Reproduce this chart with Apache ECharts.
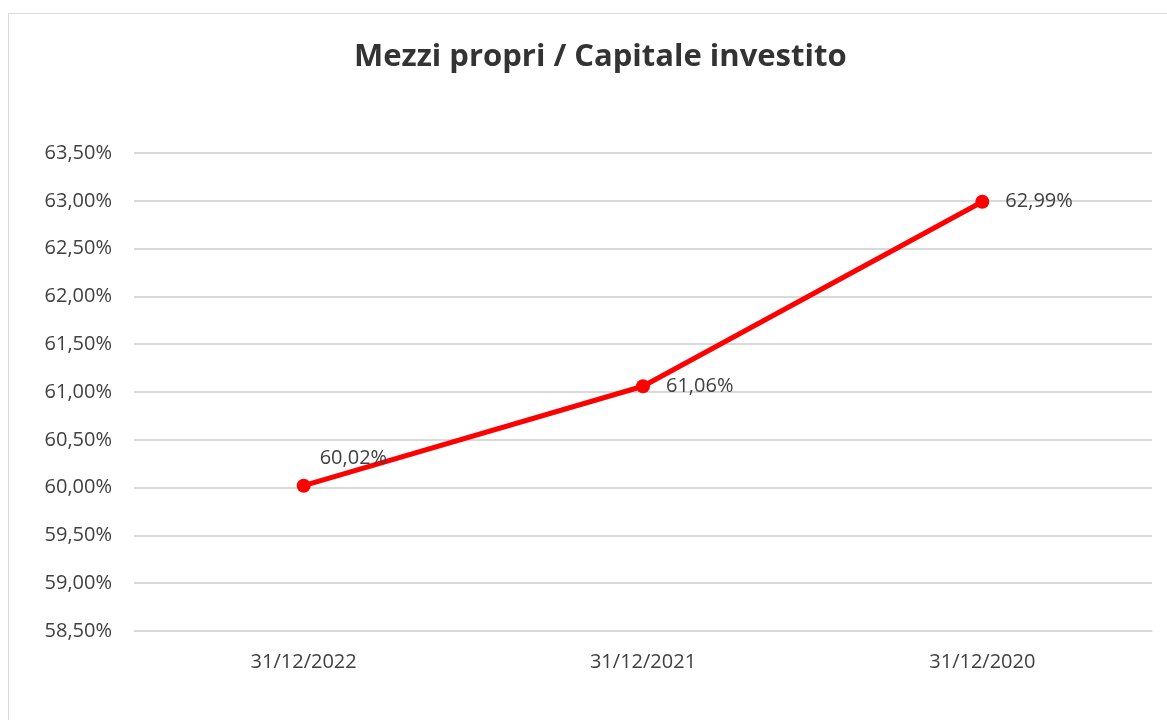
<!DOCTYPE html>
<html>
<head>
<meta charset="utf-8">
<script src="https://cdn.jsdelivr.net/npm/echarts@6/dist/echarts.min.js"></script>
<style>
  html, body { margin: 0; padding: 0; background: #fff; }
  #frame { position: absolute; left: 8px; top: 13px; width: 1200px; height: 760px; border: 1px solid #d9d9d9; }
  #chart { position: absolute; left: 0; top: 0; width: 1167px; height: 720px; }
</style>
</head>
<body>
<div id="frame"></div>
<div id="chart"></div>
<script>
// dati
var categorie = ['31/12/2022', '31/12/2021', '31/12/2020'];
var valori = [60.02, 61.06, 62.99];
var asseMin = 58.5, asseMax = 63.5, passo = 0.5;

function fmt(v, dec) {
    return v.toFixed(dec).replace('.', ',') + '%';
}

var myChart = echarts.init(document.getElementById('chart'));

var option = {
    backgroundColor: 'transparent',
    title: {
        text: 'Mezzi propri / Capitale investito',
        left: 349,
        top: 37,
        textStyle: {
            fontFamily: 'Open Sans',
            fontSize: 31,
            fontWeight: 'bold',
            color: '#333333'
        }
    },
    grid: {
        left: 134,
        right: 15,
        top: 153,
        bottom: 89
    },
    xAxis: {
        type: 'category',
        data: categorie,
        axisLine: { lineStyle: { color: '#d9d9d9', width: 1 } },
        axisTick: { show: false },
        axisLabel: {
            margin: 21,
            fontFamily: 'Open Sans',
            fontSize: 20,
            color: '#404040'
        }
    },
    yAxis: {
        type: 'value',
        min: asseMin,
        max: asseMax,
        interval: passo,
        axisLine: { show: false },
        axisTick: { show: false },
        splitLine: { lineStyle: { color: '#d9d9d9', width: 2 } },
        axisLabel: {
            margin: 22,
            fontFamily: 'Open Sans',
            fontSize: 20,
            color: '#404040',
            formatter: function (v) { return fmt(v, 2); }
        }
    },
    series: [
        {
            type: 'line',
            data: valori.map(function (v, i) {
                return {
                    value: v,
                    label: i === 0 ? { distance: 9, offset: [0, -27] } : { distance: 16 }
                };
            }),
            symbol: 'circle',
            symbolSize: 14,
            lineStyle: { color: '#ff0000', width: 5 },
            itemStyle: { color: '#ff0000' },
            label: {
                show: true,
                position: 'right',
                fontFamily: 'Open Sans',
                fontSize: 20,
                color: '#404040',
                formatter: function (p) { return fmt(p.value, 2); }
            },
            silent: true,
            animation: false
        }
    ]
};
myChart.setOption(option);
</script>
</body>
</html>
